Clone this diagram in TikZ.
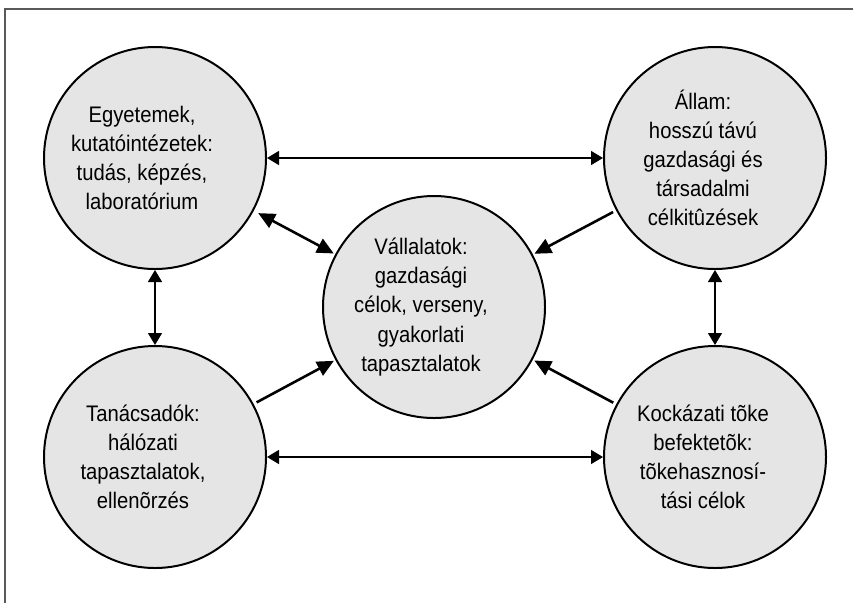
\documentclass[tikz,border=0pt]{standalone}
\usepackage{fontspec}
\setmainfont[FakeStretch=0.9]{Liberation Sans}
\usetikzlibrary{arrows.meta}

\tikzset{
    actor/.style={circle, draw, line width=1.7pt, fill=black!10, minimum size=6.66cm, inner sep=0pt},
    caption/.style={align=center, font=\fontsize{19.2}{24.8}\selectfont},
    link/.style={line width=1.1pt, {Triangle[length=0.36cm,width=0.42cm]}-{Triangle[length=0.36cm,width=0.42cm]}},
    flow/.style={line width=2.2pt, -{Triangle[length=0.5cm,width=0.46cm]}, shorten >=0.05cm, shorten <=0.1cm}
}

\begin{document}
\begin{tikzpicture}[x=0.03cm, y=-0.03cm]
    \useasboundingbox (0,0) rectangle (853,603);
    \draw[black!65, line width=0.9pt] (853,9) -- (5,9) -- (5,603);
    % the five actors
    \node[actor] (uni)     at (155,158) {};
    \node[actor] (state)   at (715,158) {};
    \node[actor] (firm)    at (434,307) {};
    \node[actor] (adv)     at (155,457) {};
    \node[actor] (venture) at (715,457) {};
    \node[caption] (uni text)     at ([xshift=-0.39cm]uni.center)     {Egyetemek,\\kutatóintézetek:\\tudás, képzés,\\laboratórium};
    \node[caption] (state text)   at ([xshift=-0.36cm]state.center)   {Állam:\\hosszú távú\\gazdasági és\\társadalmi\\célkitûzések};
    \node[caption] (firm text)    at ([xshift=-0.39cm]firm.center)    {Vállalatok:\\gazdasági\\célok, verseny,\\gyakorlati\\tapasztalatok};
    \node[caption] (adv text)     at ([xshift=-0.36cm]adv.center)     {Tanácsadók:\\hálózati\\tapasztalatok,\\ellenõrzés};
    \node[caption] (venture text) at ([xshift=-0.36cm]venture.center) {Kockázati tõke\\befektetõk:\\tõkehasznosí-\\tási célok};
    % connectors
    \draw[link] (uni) -- (state);
    \draw[link] (adv) -- (venture);
    \draw[link] (uni) -- (adv);
    \draw[link] (state) -- (venture);
    \draw[flow, {Triangle[length=0.5cm,width=0.46cm]}-{Triangle[length=0.5cm,width=0.46cm]}, shorten <=0.15cm] (uni) -- (firm);
    \draw[flow] (state) -- (firm);
    \draw[flow] (adv) -- (firm);
    \draw[flow] (venture) -- (firm);
\end{tikzpicture}
\end{document}
